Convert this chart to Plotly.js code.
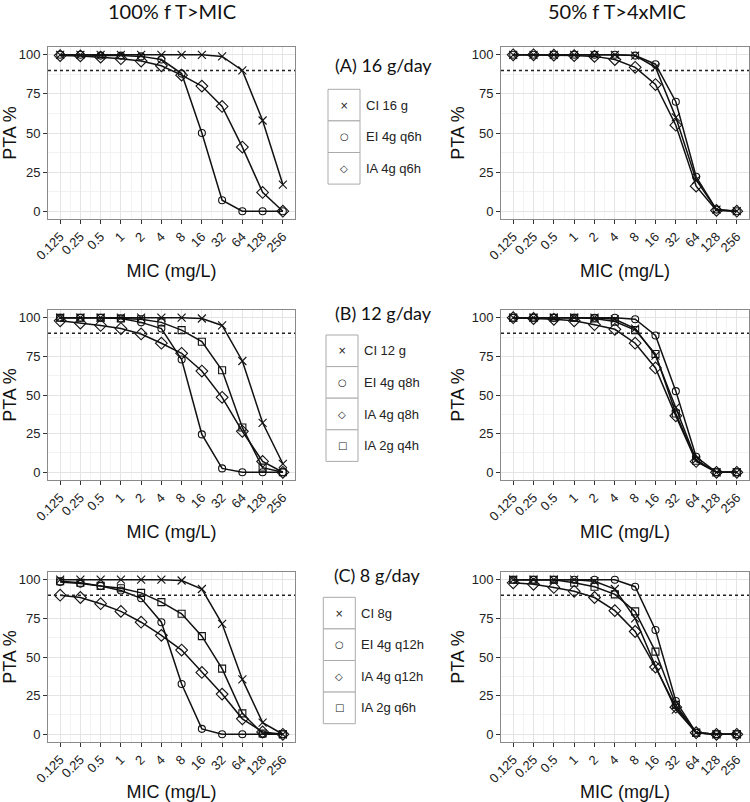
<!DOCTYPE html>
<html><head><meta charset="utf-8">
<script src="https://cdn.plot.ly/plotly-3.0.1.min.js"></script>
<style>html,body{margin:0;padding:0;background:#fff}</style>
</head><body><div id="chart" style="width:750px;height:802px"></div>
<script>
// ---- data ----
const MIC = ['0.125','0.25','0.5','1','2','4','8','16','32','64','128','256'];
const TARGET = 90;

// Panel A: 16 g/day
const a_ci_100 = [100,100,100,100,100,100,100,100,99,90,58,17];
const a_ei_100 = [100,100,99.5,99.5,99,97,88,50,7,0,0,0];
const a_ia_100 = [99.5,99.3,98.5,97.5,96,93,87,80,67,41,12,0];
const a_ci_50  = [100,100,100,100,100,100,99.5,92,60,20,1,0];
const a_ei_50  = [100,100,100,100,100,100,99.5,94,70,22,1,0];
const a_ia_50  = [100,100,99.8,99.5,99,97,92,81,55,16,0.5,0];

// Panel B: 12 g/day
const b_ci_100  = [100,100,100,100,100,100,100,99.5,95,72,32,5.5];
const b_ei_100  = [100,100,100,99.5,97,93,73,24.5,2.5,0,0,0];
const b_ia4_100 = [98,96.5,95,93,89.5,83.5,77,65.5,48.5,26.5,7,0];
const b_ia2_100 = [100,100,100,99.5,99,97,92,84.5,66,29,3,0];
const b_ci_50   = [100,100,100,100,100,99,93,75.5,42,8,0,0];
const b_ei_50   = [100,100,100,100,100,100,99,88.5,52.5,10,0,0];
const b_ia4_50  = [100,99.5,99,98,95.5,92.5,83.5,67.5,36.5,7,0,0];
const b_ia2_50  = [100,100,100,100,99.5,97.5,92,76.5,38,7.5,0,0];

// Panel C: 8 g/day
const c_ci_100  = [100,100,100,100,100,100,99.5,94,71.5,35.5,7.5,0];
const c_ei_100  = [98.5,97.5,96,93,88,72.5,32.5,3.5,0,0,0,0];
const c_ia4_100 = [90,88.5,84.5,79.5,72.5,64,54.5,40,26,10,1.5,0];
const c_ia2_100 = [99,98,96,94.5,91.5,85.5,78,63.5,42.5,13.5,0.5,0];
const c_ci_50   = [100,100,100,100,99,94,75,44,16,1,0,0];
const c_ei_50   = [100,100,100,100,100,100,95.5,67.5,21.5,1,0,0];
const c_ia4_50  = [98,97,95,92.5,88.5,80,66.5,43.5,17.5,1,0,0];
const c_ia2_50  = [100,100,100,98,95.5,90.5,79.5,53.5,19,1,0,0];

const COL_TITLES = ['100% f T>MIC', '50% f T>4xMIC'];
const PANEL_LABELS = ['(A) 16 g/day', '(B) 12 g/day', '(C) 8 g/day'];
const LEGEND_A = ['CI 16 g', 'EI 4g q6h', 'IA 4g q6h'];
const LEGEND_B = ['CI 12 g', 'EI 4g q8h', 'IA 4g q8h', 'IA 2g q4h'];
const LEGEND_C = ['CI 8g', 'EI 4g q12h', 'IA 4g q12h', 'IA 2g q6h'];

// ---- styling / layout ----
const W = 750, H = 802;
const SYM = ['x-thin-open','circle-open','diamond-open','square-open'];
const GLYPH = ['\u00d7','\u25cb','\u25c7','\u25a1'];
const SIZE = [8,7,9,7];
const idx = MIC.map((_, i) => i);
const mids = idx.slice(0, -1).map(i => i + 0.5);

const panels = [
  {ax:'', series:[a_ci_100, a_ei_100, a_ia_100]},
  {ax:'2', series:[a_ci_50, a_ei_50, a_ia_50]},
  {ax:'3', series:[b_ci_100, b_ei_100, b_ia4_100, b_ia2_100]},
  {ax:'4', series:[b_ci_50, b_ei_50, b_ia4_50, b_ia2_50]},
  {ax:'5', series:[c_ci_100, c_ei_100, c_ia4_100, c_ia2_100]},
  {ax:'6', series:[c_ci_50, c_ei_50, c_ia4_50, c_ia2_50]}
];
const legendNames = [LEGEND_A, LEGEND_B, LEGEND_C];

const px = x => x / W;
const py = y => 1 - y / H;
const xDom = [[px(48), px(295)], [px(501), px(749)]];
const yDom = [[py(219), py(47)], [py(480), py(310)], [py(742), py(572)]];

const AXFONT = 'Liberation Sans, Arial, sans-serif';
const TITLEFONT = 'Lato, Open Sans, sans-serif';

const traces = [];
const layout = {
  width: W, height: H,
  margin: {l:0, r:0, t:0, b:0},
  paper_bgcolor: '#fff', plot_bgcolor: '#fff',
  showlegend: false,
  shapes: [], annotations: []
};

panels.forEach((p, k) => {
  const col = k % 2, row = Math.floor(k / 2);
  const xa = 'x' + p.ax, ya = 'y' + p.ax;
  p.series.forEach((vals, s) => {
    traces.push({
      x: idx, y: vals, xaxis: xa, yaxis: ya,
      type: 'scatter', mode: 'lines+markers',
      name: legendNames[row][s],
      line: {color: '#111', width: 1.5},
      marker: {symbol: SYM[s], size: SIZE[s], color: '#111', line: {color: '#111', width: 1.1}},
      cliponaxis: false
    });
  });
  const common = {
    showline: true, mirror: true, linecolor: '#8a8a8a', linewidth: 1,
    ticks: 'outside', ticklen: 4, tickwidth: 1, tickcolor: '#333',
    showgrid: true, gridcolor: '#e4e4e4', gridwidth: 1,
    zeroline: false, fixedrange: true,
    tickfont: {family: AXFONT, size: 13, color: '#222'}
  };
  layout['xaxis' + p.ax] = Object.assign({}, common, {
    domain: xDom[col], anchor: ya,
    range: [-0.6, MIC.length - 0.4],
    tickmode: 'array', tickvals: idx, ticktext: MIC, tickangle: -45,
    minor: {tickmode: 'array', tickvals: mids, showgrid: true, gridcolor: '#f2f2f2', gridwidth: 1, ticks: ''},
    title: {text: 'MIC (mg/L)', font: {family: AXFONT, size: 18, color: '#111'}, standoff: 2}
  });
  layout['yaxis' + p.ax] = Object.assign({}, common, {
    domain: yDom[row], anchor: xa,
    range: [-5, 105],
    tickmode: 'array', tickvals: [0,25,50,75,100],
    minor: {tickmode: 'array', tickvals: [12.5,37.5,62.5,87.5], showgrid: true, gridcolor: '#f2f2f2', gridwidth: 1, ticks: ''},
    title: {text: 'PTA %', font: {family: AXFONT, size: 18, color: '#111'}, standoff: 2}
  });
  layout.shapes.push({
    type: 'line', xref: xa + ' domain', yref: ya,
    x0: 0, x1: 1, y0: TARGET, y1: TARGET,
    line: {color: '#222', width: 1.4, dash: 'dot'}
  });
});

// column titles
[[172, COL_TITLES[0]], [617, COL_TITLES[1]]].forEach(([x, t]) => {
  layout.annotations.push({xref:'paper', yref:'paper', x: px(x), y: py(11),
    text: t, showarrow: false, xanchor: 'center', yanchor: 'middle',
    font: {family: TITLEFONT, size: 20, color: '#111'}});
});

// panel labels + legends
const labelPos = [[333, 65], [333, 313], [332, 575]];
const legendPos = [[328, 89.3], [326, 335], [323.3, 597.3]];
const ROWH = 31.6, BOXW = 32;
PANEL_LABELS.forEach((t, r) => {
  layout.annotations.push({xref:'paper', yref:'paper', x: px(labelPos[r][0]), y: py(labelPos[r][1]),
    text: t, showarrow: false, xanchor: 'left', yanchor: 'middle',
    font: {family: TITLEFONT, size: 18, color: '#111'}});
  const [lx, ly] = legendPos[r];
  legendNames[r].forEach((name, i) => {
    const top = ly + i * ROWH;
    layout.shapes.push({type:'rect', xref:'paper', yref:'paper',
      x0: px(lx), x1: px(lx + BOXW), y0: py(top + ROWH), y1: py(top),
      line: {color: '#ababab', width: 1}, fillcolor: '#fff', layer: 'above'});
    layout.annotations.push({xref:'paper', yref:'paper', x: px(lx + BOXW / 2), y: py(top + ROWH / 2),
      text: GLYPH[i], showarrow: false, xanchor: 'center', yanchor: 'middle',
      font: {family: 'DejaVu Sans', size: 10, color: '#222'}});
    layout.annotations.push({xref:'paper', yref:'paper', x: px(lx + BOXW + 4), y: py(top + ROWH / 2),
      text: name, showarrow: false, xanchor: 'left', yanchor: 'middle',
      font: {family: AXFONT, size: 13, color: '#222'}});
  });
});

Plotly.newPlot('chart', traces, layout, {staticPlot: true, displayModeBar: false});
</script></body></html>
